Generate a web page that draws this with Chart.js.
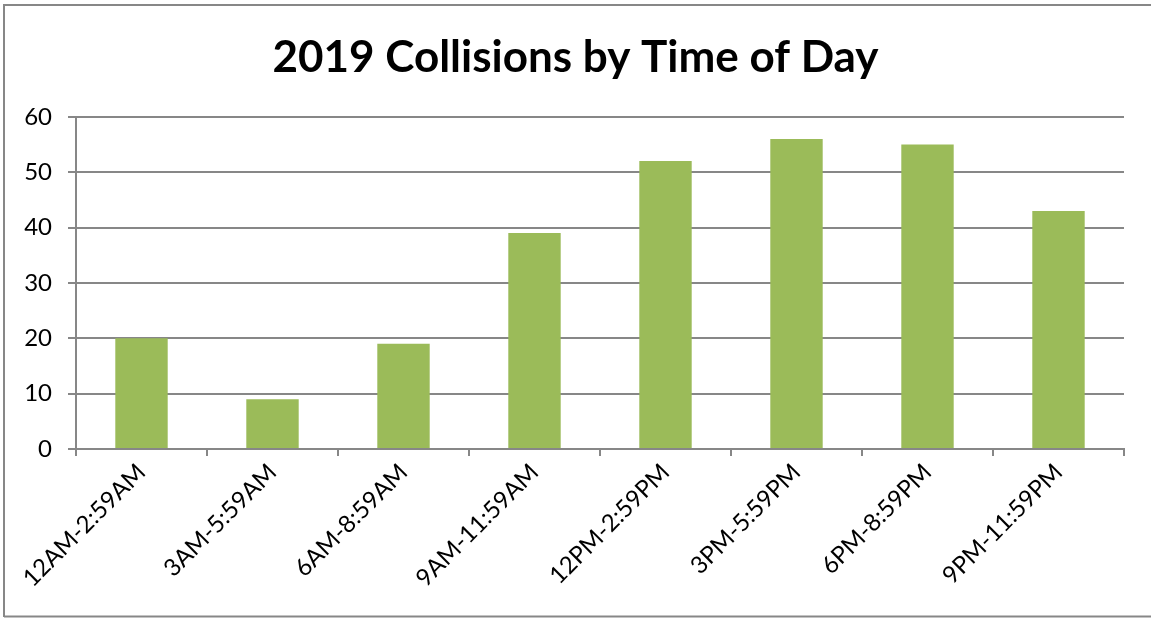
<!DOCTYPE html>
<html>
<head>
<meta charset="utf-8">
<script src="https://cdn.jsdelivr.net/npm/chart.js@4"></script>
<style>
    html, body { margin: 0; padding: 0; background: #fff; }
    #wrap { width: 1151px; height: 618px; position: relative; }
</style>
</head>
<body>
<div id="wrap"><canvas id="collisionChart"></canvas></div>
<script>
// Datos del grafico
const timeSlots = ['12AM-2:59AM', '3AM-5:59AM', '6AM-8:59AM', '9AM-11:59AM', '12PM-2:59PM', '3PM-5:59PM', '6PM-8:59PM', '9PM-11:59PM'];
const collisions = [20, 9, 19, 39, 52, 56, 55, 43];
const yTicks = [0, 10, 20, 30, 40, 50, 60];

const chartTitle = '2019 Collisions by Time of Day';
const fontFamily = 'Lato, "Open Sans", sans-serif';

// marco gris alrededor del grafico
const frame = {
    id: 'frame',
    beforeDraw(chart) {
        const c = chart.ctx;
        c.save();
        c.fillStyle = '#fff';
        c.fillRect(0, 0, chart.width, chart.height);
        c.strokeStyle = '#878787';
        c.lineWidth = 2;
        c.beginPath();
        c.moveTo(4, chart.height - 1);
        c.lineTo(4, 5);
        c.lineTo(chart.width, 5);
        c.moveTo(4, chart.height - 1.5);
        c.lineTo(chart.width, chart.height - 1.5);
        c.stroke();
        c.restore();
    }
};

new Chart(document.getElementById('collisionChart'), {
    type: 'bar',
    data: {
        labels: timeSlots,
        datasets: [{
            label: 'Collisions',
            data: collisions,
            backgroundColor: '#9BBB59',
            borderWidth: 0,
            barPercentage: 0.4,
            categoryPercentage: 1.0
        }]
    },
    options: {
        responsive: true,
        maintainAspectRatio: false,
        animation: false,
        layout: { padding: 0 },
        plugins: {
            legend: { display: false },
            tooltip: { enabled: false },
            title: {
                display: true,
                text: chartTitle,
                color: '#000',
                font: { family: fontFamily, size: 44, weight: 'bold' },
                padding: { top: 31, bottom: 33 }
            }
        },
        scales: {
            x: {
                grid: { display: true, drawOnChartArea: false, color: '#878787', lineWidth: 2, tickLength: 7, offset: true },
                border: { color: '#878787', width: 2 },
                ticks: {
                    color: '#000',
                    font: { family: fontFamily, size: 24 },
                    minRotation: 45,
                    maxRotation: 45,
                    padding: 2
                },
                afterFit: (scale) => { scale.height = 169; }
            },
            y: {
                min: 0,
                max: 60,
                afterBuildTicks: (scale) => { scale.ticks = yTicks.map(v => ({ value: v })); },
                grid: { color: '#878787', lineWidth: 2, tickLength: 8 },
                border: { color: '#878787', width: 2 },
                ticks: {
                    color: '#000',
                    font: { family: fontFamily, size: 24 },
                    padding: 16
                },
                afterFit: (scale) => { scale.width = 76; }
            },
            // eje vacio a la derecha, solo para reservar espacio
            yRight: {
                position: 'right',
                display: true,
                grid: { display: false },
                border: { display: false },
                ticks: { display: false },
                afterFit: (scale) => { scale.width = 27; }
            }
        }
    },
    plugins: [frame]
});
</script>
</body>
</html>
